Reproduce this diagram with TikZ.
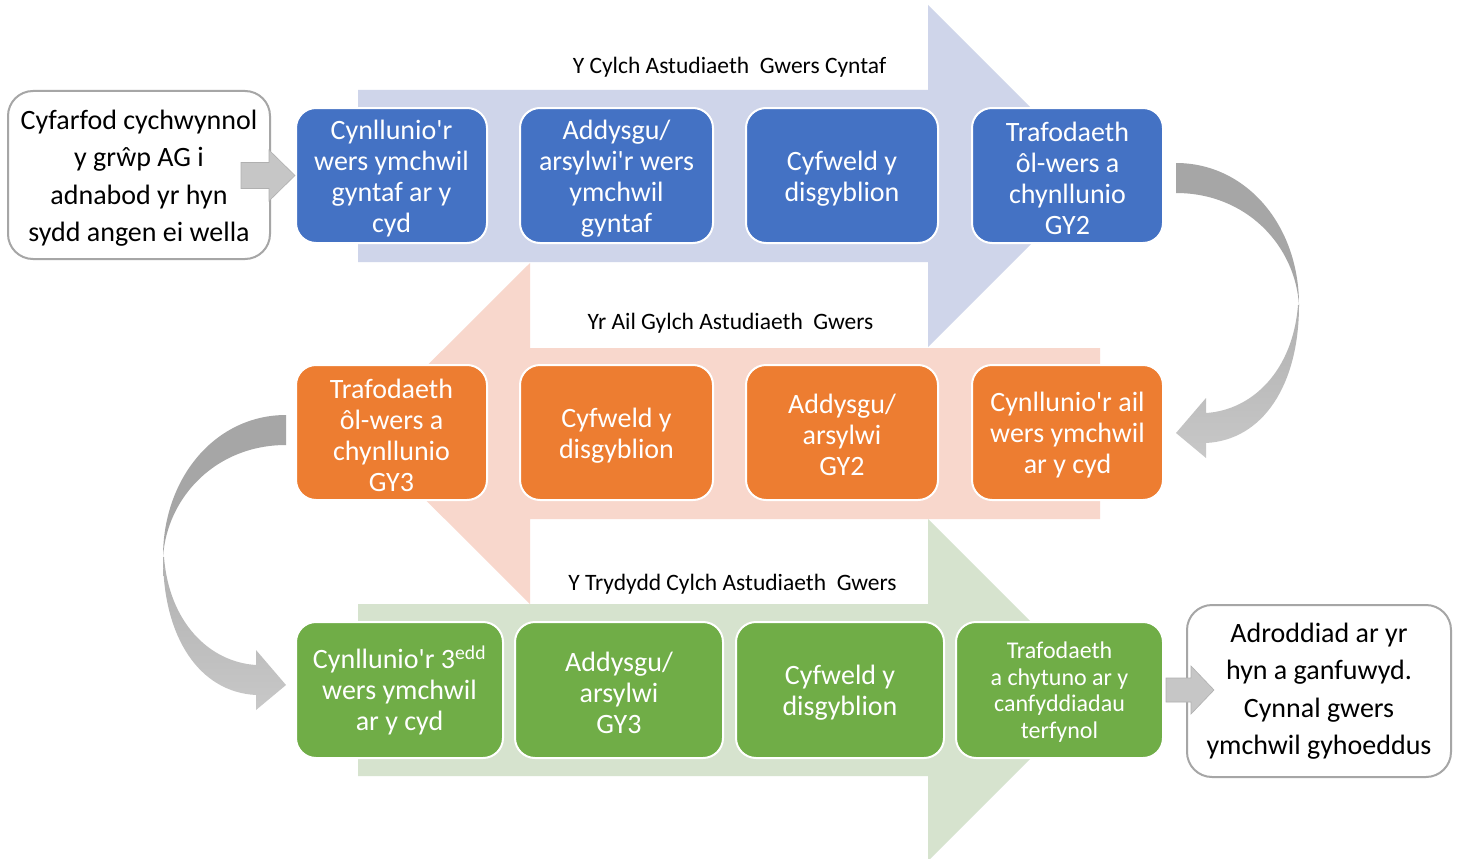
\documentclass[tikz,border=0pt]{standalone}
\usepackage{fontspec}
\setmainfont{Carlito}[Ligatures=TeXOff]
\usetikzlibrary{calc}
\definecolor{bluebox}{HTML}{4472C4}
\definecolor{orangebox}{HTML}{ED7D31}
\definecolor{greenbox}{HTML}{70AD47}
\definecolor{bluelight}{HTML}{CFD5EA}
\definecolor{orangelight}{HTML}{F8D7CC}
\definecolor{greenlight}{HTML}{D6E3CE}
\definecolor{greydark}{HTML}{A6A6A6}
\definecolor{greymid}{HTML}{B0B0B0}
\definecolor{greylight}{HTML}{C8C8C8}
\definecolor{smallarrow}{HTML}{C6C6C6}
\definecolor{boxborder}{HTML}{A6A6A6}
\newcommand{\myfirstline}{\rule{0pt}{25pt}}
\begin{document}
\begin{tikzpicture}[x=1pt,y=-1pt,
  stepbox/.style={rectangle, rounded corners=20pt, draw=white, line width=2pt,
    text=white, align=center, inner sep=0pt, minimum height=135pt,
    font=\fontsize{28}{31}\selectfont},
  endbox/.style={rectangle, rounded corners=25pt, draw=boxborder, line width=2pt,
    fill=white, text=black, align=center, inner sep=0pt,
    font=\fontsize{28}{37.5}\selectfont},
  lbl/.style={text=black, inner sep=0pt, font=\fontsize{23.5}{28}\selectfont},
  flatarrow/.style={fill=smallarrow, draw=greymid, line width=0.6pt},
  ribbondark/.style={fill=greydark},
  ribbonlight/.style={top color=greymid, bottom color=greylight}
]
\useasboundingbox (0,0) rectangle (1457,859);
\fill[white] (0,0) rectangle (1457,859);

% big background arrows
\fill[bluelight] (358,90) -- (928,90) -- (928,5) -- (1099,176) -- (928,347) -- (928,262) -- (358,262) -- cycle;
\fill[orangelight] (1100,348) -- (530,348) -- (530,263) -- (359,433.5) -- (530,604) -- (530,519) -- (1100,519) -- cycle;
\fill[greenlight] (358,604) -- (928,604) -- (928,519) -- (1099,690) -- (928,861) -- (928,776) -- (358,776) -- cycle;

% cycle labels
\node[lbl] (l1) at (729.5,67) {Y Cylch Astudiaeth~ Gwers Cyntaf};
\node[lbl] (l2) at (730.5,323.5) {Yr Ail Gylch Astudiaeth~ Gwers};
\node[lbl] (l3) at (732.5,584.5) {Y Trydydd Cylch Astudiaeth~ Gwers};

% row 1
\node[stepbox, fill=bluebox, minimum width=191pt] (b11) at (391.5,175.5) {\myfirstline Cynllunio'r\\wers ymchwil\\gyntaf ar y\\cyd};
\node[stepbox, fill=bluebox, minimum width=193pt] (b12) at (616.5,175.5) {\myfirstline Addysgu/\\arsylwi'r wers\\ymchwil\\gyntaf};
\node[stepbox, fill=bluebox, minimum width=192pt] (b13) at (842,175.5) {\myfirstline Cyfweld y\\disgyblion};
\node[stepbox, fill=bluebox, minimum width=191pt] (b14) at (1067.5,175.5) {\myfirstline Trafodaeth\\ôl-wers a\\chynllunio\\GY2};

% row 2
\node[stepbox, fill=orangebox, minimum width=191pt] (b21) at (391.5,432.5) {\myfirstline Trafodaeth\\ôl-wers a\\chynllunio\\GY3};
\node[stepbox, fill=orangebox, minimum width=193pt] (b22) at (616.5,432.5) {\myfirstline Cyfweld y\\disgyblion};
\node[stepbox, fill=orangebox, minimum width=192pt] (b23) at (842,432.5) {\myfirstline Addysgu/\\arsylwi\\GY2};
\node[stepbox, fill=orangebox, minimum width=191pt] (b24) at (1067.5,432.5) {\myfirstline Cynllunio'r ail\\wers ymchwil\\ar y cyd};

% row 3
\node[stepbox, fill=greenbox, minimum width=207pt, minimum height=136pt] (b31) at (399.5,690) {Cynllunio'r 3\textsuperscript{edd}\\wers ymchwil\\ar y cyd};
\node[stepbox, fill=greenbox, minimum width=208pt, minimum height=136pt] (b32) at (619,690) {\myfirstline Addysgu/\\arsylwi\\GY3};
\node[stepbox, fill=greenbox, minimum width=208pt, minimum height=136pt] (b33) at (840,690) {\myfirstline Cyfweld y\\disgyblion};
\node[stepbox, fill=greenbox, minimum width=207pt, minimum height=136pt, font=\fontsize{24}{26.5}\selectfont] (b34) at (1059.5,690) {\rule{0pt}{21pt}Trafodaeth\\a chytuno ar y\\canfyddiadau\\terfynol};

% start and end boxes
\node[endbox, minimum width=262pt, minimum height=168pt] (start) at (139,175) {\rule{0pt}{26pt}Cyfarfod cychwynnol\\y grŵp AG i\\adnabod yr hyn\\sydd angen ei wella};
\node[endbox, minimum width=264pt, minimum height=172pt] (finish) at (1319,691) {Adroddiad ar yr\\hyn a ganfuwyd.\\Cynnal gwers\\ymchwil gyhoeddus};

% small straight block arrows
\begin{scope}[shift={(b11.west)}]
  \path[flatarrow] (-54,-13) -- (-26,-13) -- (-26,-25.5) -- (0,0) -- (-26,25.5) -- (-26,13) -- (-54,13) -- cycle;
\end{scope}
\begin{scope}[shift={(b34.east)}]
  \path[flatarrow] (2,-12) -- (27,-12) -- (27,-24) -- (50,0) -- (27,24) -- (27,12) -- (2,12) -- cycle;
\end{scope}

% curved ribbon arrow: row 1 -> row 2 (right side)
\begin{scope}[shift={(b14.east)}]
  \path[ribbondark] (12,-12.5) .. controls (82,-12.5) and (135,49.5) .. (135,129.5)
     .. controls (131,69.5) and (82,17.5) .. (12,17.5) -- cycle;
  \path[ribbonlight] (135,129.5) .. controls (135,209.5) and (99,264.5) .. (42,267.5)
     -- (42,282.5) -- (12,257.5) -- (42,222.5) -- (42,237.5)
     .. controls (89,234.5) and (129,194.5) .. (134,129.5) -- cycle;
\end{scope}

% curved ribbon arrow: row 2 -> row 3 (left side), mirrored
\begin{scope}[shift={($(b21.west)+(3,-5)$)}, xscale=-1]
  \path[ribbondark] (12,-12.5) .. controls (82,-12.5) and (135,49.5) .. (135,129.5)
     .. controls (131,69.5) and (82,17.5) .. (12,17.5) -- cycle;
  \path[ribbonlight] (135,129.5) .. controls (135,209.5) and (99,264.5) .. (42,267.5)
     -- (42,282.5) -- (12,257.5) -- (42,222.5) -- (42,237.5)
     .. controls (89,234.5) and (129,194.5) .. (134,129.5) -- cycle;
\end{scope}
\end{tikzpicture}
\end{document}
